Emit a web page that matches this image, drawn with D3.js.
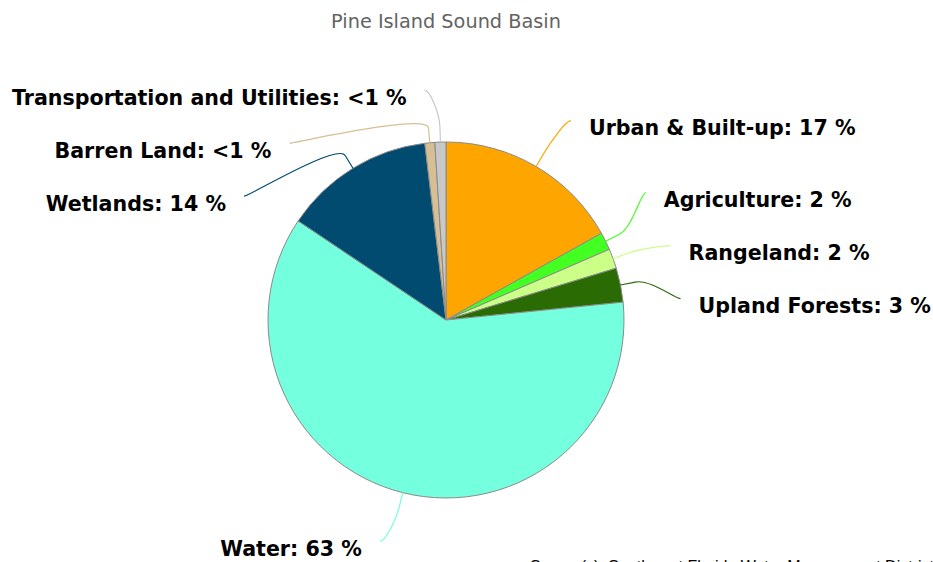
<!DOCTYPE html>
<html>
<head>
<meta charset="utf-8">
<script src="https://cdn.jsdelivr.net/npm/d3@7"></script>
<style>
  body { margin: 0; background: #fff; overflow: hidden; }
  svg { display: block; }
</style>
</head>
<body>
<svg id="chart"></svg>
<script>
'use strict';

// land use categories, clockwise from 12 o'clock
var categories = ['Urban & Built-up', 'Agriculture', 'Rangeland', 'Upland Forests',
  'Water', 'Wetlands', 'Barren Land', 'Transportation and Utilities'];
var shares = [16.9, 1.6, 1.8, 3.1, 61.0, 13.7, 0.9, 1.0];
var shareLabels = ['17', '2', '2', '3', '63', '14', '<1', '<1'];
var colors = ['#ffa500', '#44ff22', '#ccff88', '#2a6b04', '#74ffde', '#004b6f', '#d6bf95', '#c8c8c8'];

var width = 933,
  height = 562,
  cx = 446,
  cy = 320,
  radius = 178,
  labelRadius = radius + 45,
  lineGap = 53;

var svg = d3.select('#chart')
  .attr('width', width)
  .attr('height', height);

svg.append('text')
  .attr('x', cx)
  .attr('y', 28)
  .attr('text-anchor', 'middle')
  .style('font-family', '"DejaVu Sans", sans-serif')
  .style('font-size', '19.3px')
  .style('fill', '#636363')
  .text('Pine Island Sound Basin');

var pie = d3.pie()
  .sort(null)
  .value(function (d) { return d; });

var arcs = pie(shares);

var arc = d3.arc()
  .outerRadius(radius)
  .innerRadius(0);

var edgeArc = d3.arc().innerRadius(radius).outerRadius(radius);
var breakArc = d3.arc().innerRadius(radius + 15).outerRadius(radius + 15);

var g = svg.append('g')
  .attr('transform', 'translate(' + cx + ',' + cy + ')');

g.selectAll('.slice')
  .data(arcs)
  .enter().append('path')
  .attr('class', 'slice')
  .attr('d', arc)
  .style('fill', function (d, i) { return colors[i]; })
  .style('stroke', '#8a8a8a')
  .style('stroke-width', 1);

// label layout, roughly like highcharts' distribute()
var labels = arcs.map(function (d, i) {
  var a = (d.startAngle + d.endAngle) / 2;
  return {
    i: i,
    a: a,
    left: Math.sin(a) < 0,
    target: cy - labelRadius * Math.cos(a)
  };
});

function distribute(list, minY) {
  list.sort(function (p, q) { return p.target - q.target; });
  var boxes = list.map(function (l) { return { items: [l], targets: [l.target] }; });
  var moved = true;
  while (moved) {
    moved = false;
    boxes.forEach(function (b) {
      var mid = (d3.min(b.targets) + d3.max(b.targets)) / 2 + (b.items.length > 1 ? 4 : 0);
      b.pos = Math.max(minY, mid - (b.items.length - 1) * lineGap / 2);
    });
    for (var k = 1; k < boxes.length; k++) {
      var prev = boxes[k - 1];
      if (prev.pos + prev.items.length * lineGap > boxes[k].pos) {
        prev.items = prev.items.concat(boxes[k].items);
        prev.targets = prev.targets.concat(boxes[k].targets);
        boxes.splice(k, 1);
        moved = true;
        break;
      }
    }
  }
  boxes.forEach(function (b) {
    b.items.forEach(function (l, j) { l.y = b.pos + j * lineGap; });
  });
}

distribute(labels.filter(function (l) { return !l.left; }), 97.2);
distribute(labels.filter(function (l) { return l.left; }), 97.2);

labels.forEach(function (l) {
  var dy = l.y - cy,
    dx = Math.sqrt(Math.max(0, labelRadius * labelRadius - dy * dy)),
    side = l.left ? -1 : 1;
  l.x = cx + side * (dx + 30);
  // labels in the lower half hang below their anchor
  l.ty = l.y + (Math.cos(l.a) < 0 ? 12 : 0);
  var d = arcs[l.i],
    t = edgeArc.centroid(d),
    b = breakArc.centroid(d);
  l.touch = [t[0] + cx, t[1] + cy];
  l.brk = [b[0] + cx, b[1] + cy];
  l.end = [l.x - side * 18, l.ty - 7];
});

svg.selectAll('.connector')
  .data(labels)
  .enter().append('path')
  .attr('class', 'connector')
  .attr('d', function (l) {
    var side = l.left ? -1 : 1;
    return 'M' + l.end[0] + ',' + l.end[1] +
      'C' + (l.end[0] - side * 5) + ',' + l.end[1] + ' ' +
      (2 * l.brk[0] - l.touch[0]) + ',' + (2 * l.brk[1] - l.touch[1]) + ' ' +
      l.brk[0] + ',' + l.brk[1] +
      'L' + l.touch[0] + ',' + l.touch[1];
  })
  .style('fill', 'none')
  .style('stroke', function (l) { return colors[l.i]; })
  .style('stroke-width', 1.2);

svg.selectAll('.label')
  .data(labels)
  .enter().append('text')
  .attr('class', 'label')
  .attr('x', function (l) { return l.x; })
  .attr('y', function (l) { return l.ty; })
  .attr('dy', '0.36em')
  .attr('text-anchor', function (l) { return l.left ? 'end' : 'start'; })
  .style('font-family', '"DejaVu Sans", sans-serif')
  .style('font-weight', 'bold')
  .style('font-size', '20.6px')
  .style('fill', '#000')
  .text(function (l) { return categories[l.i] + ': ' + shareLabels[l.i] + ' %'; });

svg.append('text')
  .attr('x', 530)
  .attr('y', 572)
  .style('font-family', '"Liberation Sans", Arial, sans-serif')
  .style('font-size', '16px')
  .style('fill', '#000')
  .text('Source(s): Southwest Florida Water Management District');
</script>
</body>
</html>
